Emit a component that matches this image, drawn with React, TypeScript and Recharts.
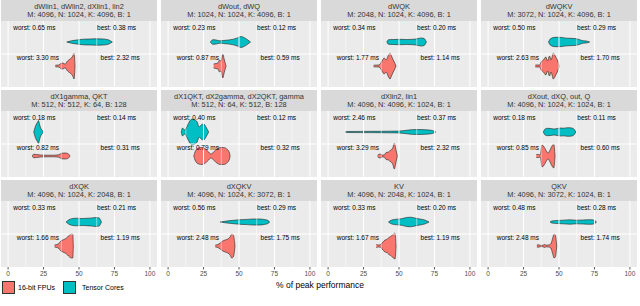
import React from 'react';
import { ComposedChart, Area, XAxis, YAxis, ReferenceLine, Scatter } from 'recharts';

const panelTitles = [
  'dWlin1, dWlin2, dXlin1, lin2', 'dWout, dWQ', 'dWQK', 'dWQKV',
  'dX1gamma, QKT', 'dX1QKT, dX2gamma, dX2QKT, gamma', 'dXlin2, lin1', 'dXout, dXQ, out, Q',
  'dXQK', 'dXQKV', 'KV', 'QKV',
];
const panelDims = [
  'M: 4096, N: 1024, K: 4096, B: 1', 'M: 1024, N: 1024, K: 4096, B: 1', 'M: 2048, N: 1024, K: 4096, B: 1', 'M: 3072, N: 1024, K: 4096, B: 1',
  'M: 512, N: 512, K: 64, B: 128', 'M: 512, N: 64, K: 512, B: 128', 'M: 4096, N: 4096, K: 1024, B: 1', 'M: 4096, N: 1024, K: 1024, B: 1',
  'M: 4096, N: 1024, K: 2048, B: 1', 'M: 4096, N: 1024, K: 3072, B: 1', 'M: 4096, N: 2048, K: 1024, B: 1', 'M: 4096, N: 3072, K: 1024, B: 1',
];
const tensorWorst = ['0.65', '0.23', '0.34', '0.50', '0.18', '0.40', '2.46', '0.18', '0.33', '0.56', '0.33', '0.48'];
const tensorBest = ['0.38', '0.12', '0.20', '0.29', '0.14', '0.12', '0.37', '0.11', '0.21', '0.29', '0.20', '0.28'];
const fpuWorst = ['3.30', '0.87', '1.77', '2.63', '0.82', '0.79', '3.29', '0.85', '1.66', '2.48', '1.67', '2.48'];
const fpuBest = ['2.32', '0.59', '1.14', '1.70', '0.31', '0.32', '2.32', '0.60', '1.19', '1.75', '1.19', '1.74'];

const xTicks = [0, 25, 50, 75, 100];
const xMinor = [12.5, 37.5, 62.5, 87.5];

// [% of peak, half-width of the violin]
const tensorShapes: number[][][] = [
  [[41.4, 0], [44.9, 1.3], [48.4, 2], [53, 2.8], [57.7, 3], [62.3, 3.2], [67, 3], [70.5, 2.3], [73.5, 0]],
  [[29.8, 0], [31.6, 2.3], [34, 2], [36.3, 1.2], [39, 1.5], [42.6, 2], [46, 2.8], [48.8, 4], [51.2, 5.5], [53.5, 4.5], [55.8, 2.5], [58.1, 0]],
  [[41.4, 0], [42.6, 2.3], [46, 2.5], [50.7, 2.7], [55.3, 2.5], [60, 2.7], [63.5, 3.5], [65.8, 4], [67.7, 3.5], [69.3, 0]],
  [[42.6, 0], [44.2, 3.5], [47.2, 4.7], [50.7, 4.7], [54.2, 4], [57.7, 3.7], [61.2, 3.5], [64.2, 2.5], [67, 1.2], [69.3, 1], [71.6, 0]],
  [[18.1, 0], [19.1, 5], [20, 8], [20.9, 10], [21.4, 11.5], [22.3, 7], [23.3, 3], [24.2, 1.5], [25.1, 0]],
  [[9.3, 0], [10.2, 4], [11.6, 2], [13.5, 6], [15.3, 11], [17, 13], [18.8, 12], [20.5, 10], [21.9, 5], [23.3, 7], [25.1, 8], [26.7, 5], [28.6, 0]],
  [[12.3, 0.5], [22.8, 0.6], [36.7, 0.7], [48.4, 0.9], [54.2, 1.5], [58.8, 2.3], [63.5, 2.5], [69.3, 2.2], [73.5, 1.5], [75.8, 0]],
  [[39, 0], [40.2, 3], [41.9, 3.7], [44.2, 3.5], [46.5, 3], [48.8, 3.5], [51.2, 4], [53.5, 3.8], [55.8, 4.3], [58.1, 4.2], [60, 3.5], [61.9, 0]],
  [[40.9, 0], [42.6, 2], [44.9, 3.3], [48.4, 3.8], [51.9, 3.5], [55.3, 3.7], [58.8, 4], [61.9, 4.5], [64.2, 4], [65.8, 0]],
  [[36.7, 0], [41.4, 1], [46, 1.7], [50.7, 2.3], [55.3, 2.6], [60, 3], [64.7, 3], [68.1, 2.4], [70.5, 1.5], [71.6, 0]],
  [[42.6, 0], [44.9, 2], [48.4, 2.8], [51.9, 3.3], [55.3, 4.5], [58.1, 4.8], [61.2, 4], [64.7, 3], [68.1, 2], [71.2, 0]],
  [[43.7, 0], [44.9, 1], [48.4, 1.5], [53, 1.8], [57.7, 2.2], [62.3, 1.8], [67, 2], [71.6, 2.3], [75.1, 1.8], [76.3, 0]],
];
const fpuShapes: number[][][] = [
  [[33.3, 0.8], [35.6, 1], [37.2, 2.5], [38.6, 3], [40.2, 1.8], [41.9, 5], [43.7, 7], [45.6, 10], [46.5, 13], [47.2, 0]],
  [[32.1, 2], [33.7, 2.5], [35.1, 3], [36.3, 6], [37.4, 5], [38.6, 12], [39.5, 7], [40.9, 0]],
  [[32.1, 0.8], [35.6, 1], [37.2, 3], [38.4, 6], [39.5, 8], [40.9, 6], [42.3, 10], [43.7, 13], [44.4, 11], [45.6, 7], [46.7, 4], [47.9, 0]],
  [[33.3, 1], [36.3, 1], [37.4, 4], [39, 6], [40.7, 9], [41.9, 5], [43.3, 10], [44.4, 6], [46, 13], [47.7, 9], [49.1, 5], [50.2, 0]],
  [[17, 0], [18.1, 1.8], [20, 1.5], [22.8, 1], [27.4, 0.8], [32.1, 0.8], [35.6, 1.2], [37.9, 2.8], [40.2, 3], [42.1, 2.5], [43.7, 0]],
  [[18.1, 0], [19.3, 5], [21.6, 8], [24, 8.5], [26.3, 7], [28.6, 4], [30.2, 2], [32.1, 4], [34.4, 7], [36.7, 8.5], [39, 8.5], [41.4, 7], [43.3, 3], [43.7, 0]],
  [[34.9, 0.8], [36.7, 2], [38.1, 1], [39.5, 1], [40.9, 3.5], [42.6, 4], [44.2, 6], [45.6, 8], [46.7, 13], [47.9, 6], [48.8, 0]],
  [[34, 1.5], [35.6, 1.5], [36.7, 1], [38.1, 11], [39, 10], [40.7, 6], [42.3, 3], [43.7, 6], [45.1, 10], [46.3, 12], [47.2, 0]],
  [[32.8, 1], [34.4, 1.5], [35.8, 2.5], [37.2, 5], [38.6, 6], [40.2, 7], [41.9, 9], [43.3, 11], [44.7, 12], [45.6, 12], [46, 0]],
  [[33.3, 1], [35.1, 1.5], [36.7, 3], [38.6, 5], [40.2, 6], [42.1, 7], [43.7, 9], [44.9, 12], [46, 11], [47.2, 0]],
  [[34, 1.5], [35.6, 1], [37.2, 1.5], [38.6, 4], [40.2, 6], [41.9, 7], [43.3, 9], [44.7, 10], [46, 12], [47.2, 13], [47.9, 0]],
  [[34.4, 1], [35.6, 1.2], [36.7, 0.7], [38.6, 0.7], [39.8, 1.5], [40.9, 0.8], [42.6, 1], [44.2, 2], [45.6, 8], [46.5, 12], [47.4, 11], [48.4, 0]],
];

const FPU_COLOR = '#F8766D';
const TC_COLOR = '#00BFC4';
const PANEL_H = 66;
const TC_Y = 21;
const FPU_Y = 45;
const MID_Y = 33;

function Panel({ idx }: { idx: number }) {
  const col = idx % 4;
  const row = Math.floor(idx / 4);
  const left = 1 + col * 160;
  const top = row * 90;
  const bottom = row === 2;
  const tData = tensorShapes[idx].map(([x, h]) => ({ x, r: [TC_Y - h, TC_Y + h] }));
  const fData = fpuShapes[idx].map(([x, h]) => ({ x, r: [FPU_Y - h, FPU_Y + h] }));
  const labels = [
    { x: 18.5, y: 6, t: `worst: ${tensorWorst[idx]} ms` },
    { x: 76.5, y: 6, t: `best: ${tensorBest[idx]} ms` },
    { x: 21, y: 36, t: `worst: ${fpuWorst[idx]} ms` },
    { x: 79, y: 36, t: `best: ${fpuBest[idx]} ms` },
  ];
  return (
    <div style={{ position: 'absolute', left, top, width: 156 }}>
      <div
        style={{
          height: 21,
          background: '#D9D9D9',
          color: '#333333',
          fontSize: 7.4,
          lineHeight: '8px',
          textAlign: 'center',
          paddingTop: 2.5,
          boxSizing: 'border-box',
          whiteSpace: 'nowrap',
        }}
      >
        <div>{panelTitles[idx]}</div>
        <div>{panelDims[idx]}</div>
      </div>
      <div style={{ position: 'relative', height: PANEL_H, background: '#EBEBEB' }}>
        <div style={{ position: 'absolute', left: 0, top: 0 }}>
          <ComposedChart
            width={156}
            height={bottom ? PANEL_H + 14 : PANEL_H}
            margin={{ top: 0, right: 0, bottom: 0, left: 0 }}
          >
            <XAxis
              dataKey="x"
              type="number"
              domain={[-5, 105]}
              ticks={xTicks}
              hide={!bottom}
              height={14}
              axisLine={false}
              tickLine={{ stroke: '#333333', strokeWidth: 0.8 }}
              tickSize={2.5}
              tickMargin={1.5}
              tick={{ fontSize: 6.5, fill: '#4D4D4D' }}
              interval={0}
              allowDataOverflow
            />
            <YAxis type="number" domain={[0, PANEL_H]} reversed hide allowDataOverflow />
            {xMinor.map((v) => (
              <ReferenceLine key={'m' + v} x={v} stroke="#FFFFFF" strokeWidth={0.5} />
            ))}
            {xTicks.map((v) => (
              <ReferenceLine key={'M' + v} x={v} stroke="#FFFFFF" strokeWidth={1} />
            ))}
            <ReferenceLine y={MID_Y} stroke="#FFFFFF" strokeWidth={1} />
            <Scatter
              data={labels}
              dataKey="y"
              isAnimationActive={false}
              shape={(p: any) => (
                <text
                  x={p.cx}
                  y={p.cy}
                  textAnchor="middle"
                  dominantBaseline="central"
                  fontSize={6.5}
                  fill="#000000"
                >
                  {p.payload.t}
                </text>
              )}
            />
            <Area
              data={tData}
              dataKey="r"
              type="monotone"
              stroke="#222222"
              strokeWidth={0.6}
              fill={TC_COLOR}
              fillOpacity={1}
              isAnimationActive={false}
              dot={false}
              activeDot={false}
            />
            <Area
              data={fData}
              dataKey="r"
              type="monotone"
              stroke="#222222"
              strokeWidth={0.6}
              fill={FPU_COLOR}
              fillOpacity={1}
              isAnimationActive={false}
              dot={false}
              activeDot={false}
            />
          </ComposedChart>
        </div>
      </div>
    </div>
  );
}

export default function App() {
  const font = '"Liberation Sans", Arial, Helvetica, sans-serif';
  return (
    <div
      style={{
        position: 'absolute',
        left: 0,
        top: 0,
        width: 640,
        height: 306,
        background: '#FFFFFF',
        fontFamily: font,
        overflow: 'hidden',
      }}
    >
      {panelTitles.map((_, i) => (
        <Panel key={i} idx={i} />
      ))}
      <div
        style={{
          position: 'absolute',
          left: 220,
          width: 200,
          top: 279,
          textAlign: 'center',
          fontSize: 8.5,
          color: '#000',
          lineHeight: '12px',
        }}
      >
        % of peak performance
      </div>
      <div style={{ position: 'absolute', left: 2, top: 281, width: 11, height: 11, background: FPU_COLOR, border: '1px solid #333' }} />
      <div style={{ position: 'absolute', left: 18, top: 281, fontSize: 7, lineHeight: '13px' }}>16-bit FPUs</div>
      <div style={{ position: 'absolute', left: 63, top: 281, width: 11, height: 11, background: TC_COLOR, border: '1px solid #333' }} />
      <div style={{ position: 'absolute', left: 82, top: 281, fontSize: 7, lineHeight: '13px' }}>Tensor Cores</div>
    </div>
  );
}
